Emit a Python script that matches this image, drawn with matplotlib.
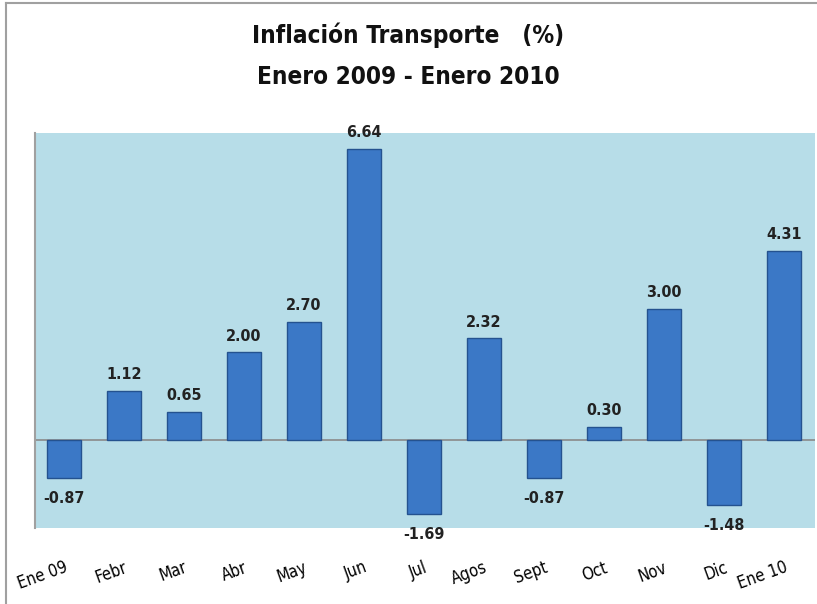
import matplotlib.pyplot as plt
from matplotlib.lines import Line2D

months = ['Ene 09', 'Febr', 'Mar', 'Abr', 'May', 'Jun', 'Jul', 'Agos',
          'Sept', 'Oct', 'Nov', 'Dic', 'Ene 10']
inflation = [-0.87, 1.12, 0.65, 2.00, 2.70, 6.64, -1.69, 2.32,
             -0.87, 0.30, 3.00, -1.48, 4.31]

plt.rcParams['font.family'] = ['DejaVu Sans']
plt.rcParams['font.stretch'] = 'condensed'

fig = plt.figure(figsize=(8.17, 6.04), dpi=100)
# outer chart border (top and left only visible)
fig.lines.append(Line2D([6 / 817, 6 / 817], [0, 1 - 3 / 604], transform=fig.transFigure,
                        color='#a0a0a0', linewidth=1.5))
fig.lines.append(Line2D([6 / 817, 1], [1 - 3 / 604, 1 - 3 / 604], transform=fig.transFigure,
                        color='#a0a0a0', linewidth=1.5))

ax = fig.add_axes([35 / 817, 1 - 528 / 604, 780 / 817, 395 / 604])
ax.set_facecolor('#b7dde8')

x = list(range(len(months)))
ax.bar(x, inflation, width=0.57, color='#3b78c6', edgecolor='#24528f',
       linewidth=1.0, zorder=3)
ax.axhline(0, color='#8a8a8a', linewidth=1.2, zorder=2)

for xi, v in zip(x, inflation):
    if v >= 0:
        ax.text(xi, v + 0.2, f'{v:.2f}', ha='center', va='bottom',
                fontsize=11.5, fontweight='bold', color='#222222')
    else:
        ax.text(xi, v - 0.3, f'{v:.2f}', ha='center', va='top',
                fontsize=11.5, fontweight='bold', color='#222222')

ax.set_xlim(-0.48, 12.52)
ax.set_ylim(-2.01, 7.01)
ax.set_yticks([])
ax.set_xticks(x)
ax.set_xticklabels(months, rotation=20, fontsize=12, ha='right',
                   rotation_mode='anchor')
ax.tick_params(axis='x', length=0, pad=22)
for s in ['top', 'right', 'bottom']:
    ax.spines[s].set_visible(False)
ax.spines['left'].set_color('#a0a0a0')
ax.spines['left'].set_linewidth(1.5)

fig.text(0.5, 1 - 35 / 604, 'Inflación Transporte   (%)', ha='center', va='center',
         fontsize=17.5, fontweight='bold', color='#111111')
fig.text(0.5, 1 - 77 / 604, 'Enero 2009 - Enero 2010', ha='center', va='center',
         fontsize=17.5, fontweight='bold', color='#111111')

fig.savefig('out.png', dpi=100)
